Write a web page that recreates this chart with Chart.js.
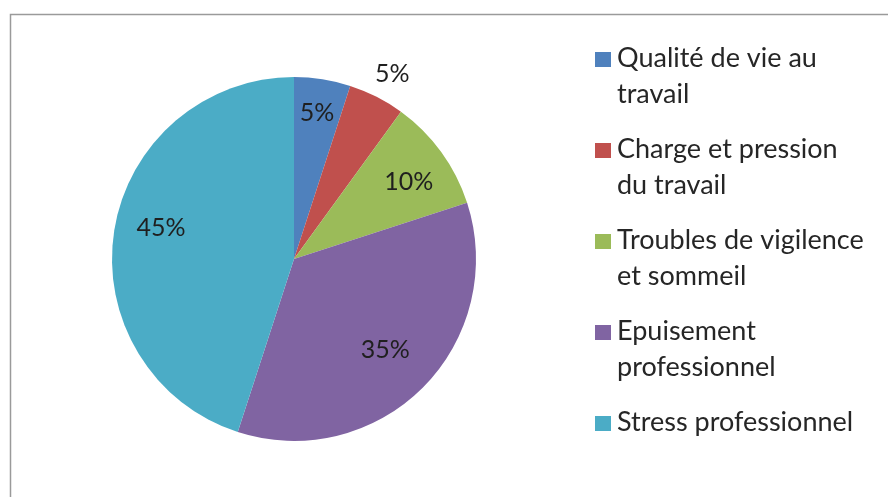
<!DOCTYPE html>
<html>
<head>
<meta charset="utf-8">
<script src="https://cdn.jsdelivr.net/npm/chart.js@4"></script>
<style>
  html, body { margin: 0; padding: 0; background: #fff; }
  #wrap { width: 888px; height: 497px; }
</style>
</head>
<body>
<div id="wrap"><canvas id="chart"></canvas></div>
<script>
// categories (legend lines) and values in percent
var labels = [
    ['Qualité de vie au', 'travail'],
    ['Charge et pression', 'du travail'],
    ['Troubles de vigilence', 'et sommeil'],
    ['Epuisement', 'professionnel'],
    ['Stress professionnel']
];
var values = [5, 5, 10, 35, 45];
var colors = ['#4f81bd', '#c0504d', '#9bbb59', '#8064a2', '#4bacc6'];

var FONT = 'Lato, "Open Sans", sans-serif';

// percent labels: radius as a fraction of the pie radius, small angle nudge in degrees
var pctLabels = {
    id: 'pctLabels',
    afterDatasetsDraw: function(chart) {
        var meta = chart.getDatasetMeta(0);
        var ctx = chart.ctx;
        var radial = [0.81, 1.15, 0.76, 0.71, 0.75];
        var nudge = [0, 1, 2, 0, 4];
        ctx.save();
        ctx.font = '25px ' + FONT;
        ctx.fillStyle = '#1f1f1f';
        ctx.textAlign = 'center';
        ctx.textBaseline = 'middle';
        meta.data.forEach(function(arc, i) {
            var a = (arc.startAngle + arc.endAngle) / 2 + nudge[i] * Math.PI / 180;
            var r = arc.outerRadius * radial[i];
            ctx.fillText(values[i] + '%', arc.x + Math.cos(a) * r, arc.y + Math.sin(a) * r);
        });
        ctx.restore();
    }
};

// legend with wrapped lines, plus the chart frame
var sideLegend = {
    id: 'sideLegend',
    afterDraw: function(chart) {
        var ctx = chart.ctx;
        ctx.save();
        ctx.strokeStyle = '#9a9a9a';
        ctx.lineWidth = 1.5;
        ctx.strokeRect(10.5, 14.5, 1000, 1000);
        ctx.font = '27px ' + FONT;
        ctx.textBaseline = 'alphabetic';
        var y = 67;
        chart.data.labels.forEach(function(lines, i) {
            ctx.fillStyle = colors[i];
            ctx.fillRect(595, y - 15, 16, 15);
            ctx.fillStyle = '#262626';
            lines.forEach(function(t, k) {
                ctx.fillText(t, 617, y + k * 36);
            });
            y += 91;
        });
        ctx.restore();
    }
};

var ctx = document.getElementById('chart').getContext('2d');
var myChart = new Chart(ctx, {
    type: 'pie',
    data: {
        labels: labels,
        datasets: [{
            data: values,
            backgroundColor: colors,
            borderWidth: 0
        }]
    },
    options: {
        responsive: true,
        maintainAspectRatio: false,
        animation: false,
        layout: { padding: { left: 112, top: 77, right: 412, bottom: 56 } },
        plugins: {
            legend: { display: false },
            tooltip: { enabled: false }
        }
    },
    plugins: [pctLabels, sideLegend]
});
</script>
</body>
</html>
